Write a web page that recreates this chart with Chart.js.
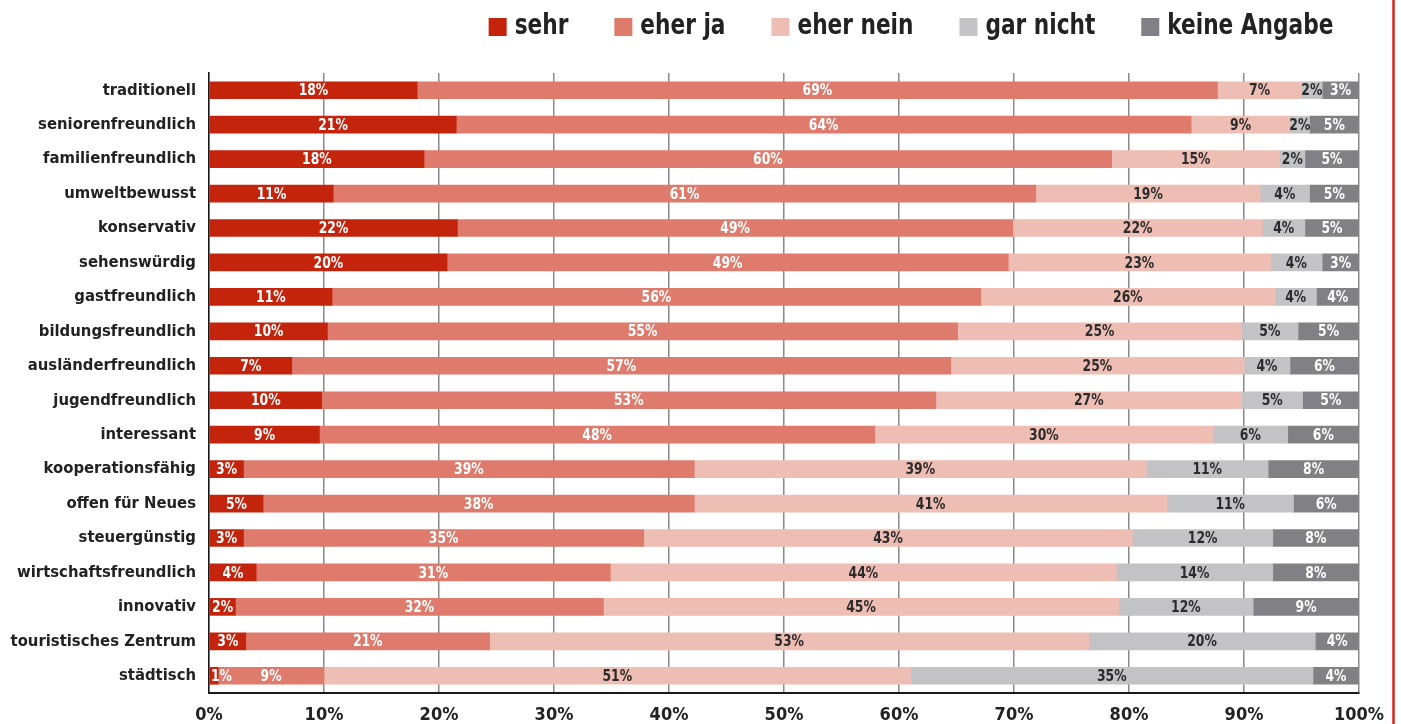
<!DOCTYPE html>
<html>
<head>
<meta charset="utf-8">
<script src="https://cdn.jsdelivr.net/npm/chart.js@4"></script>
<style>
html,body{margin:0;padding:0;background:#fff;}
#wrap{position:relative;width:1401px;height:724px;}
</style>
</head>
<body>
<div id="wrap"><canvas id="c" width="1401" height="724"></canvas></div>
<script>
const categories = ["traditionell","seniorenfreundlich","familienfreundlich","umweltbewusst","konservativ","sehenswürdig","gastfreundlich","bildungsfreundlich","ausländerfreundlich","jugendfreundlich","interessant","kooperationsfähig","offen für Neues","steuergünstig","wirtschaftsfreundlich","innovativ","touristisches Zentrum","städtisch"];
const seriesNames = ["sehr","eher ja","eher nein","gar nicht","keine Angabe"];

// bar widths (percent)
const sehr       = [18.1,21.5,18.7,10.8,21.6,20.7,10.7,10.3, 7.2, 9.8, 9.6, 3.0, 4.7, 3.0, 4.1, 2.3, 3.2, 0.8];
const eherJa     = [69.6,63.9,59.8,61.1,48.3,48.8,56.4,54.8,57.3,53.4,48.3,39.2,37.5,34.8,30.8,32.0,21.2, 9.2];
const eherNein   = [ 7.3, 8.6,14.6,19.5,21.7,22.8,25.6,24.7,25.5,26.6,29.4,39.3,41.1,42.5,44.0,44.8,52.1,51.0];
const garNicht   = [ 1.8, 1.7, 2.2, 4.3, 3.7, 4.5, 3.6, 4.9, 4.0, 5.3, 6.5,10.6,11.0,12.2,13.6,11.7,19.7,35.0];
const keineAngabe= [ 3.2, 4.3, 4.7, 4.3, 4.7, 3.2, 3.7, 5.3, 6.0, 4.9, 6.2, 7.9, 5.7, 7.5, 7.5, 9.2, 3.8, 4.0];

// printed labels
const sehrLbl       = [18,21,18,11,22,20,11,10, 7,10, 9, 3, 5, 3, 4, 2, 3, 1];
const eherJaLbl     = [69,64,60,61,49,49,56,55,57,53,48,39,38,35,31,32,21, 9];
const eherNeinLbl   = [ 7, 9,15,19,22,23,26,25,25,27,30,39,41,43,44,45,53,51];
const garNichtLbl   = [ 2, 2, 2, 4, 4, 4, 4, 5, 4, 5, 6,11,11,12,14,12,20,35];
const keineAngabeLbl= [ 3, 5, 5, 5, 5, 3, 4, 5, 6, 5, 6, 8, 6, 8, 8, 9, 4, 4];

const xTicks = [0,10,20,30,40,50,60,70,80,90,100];

const colors = ["#C4230C","#DE7B6C","#EEBDB3","#C3C3C6","#818085"];
const labelColors = ["#ffffff","#ffffff","#2b2b2b","#2b2b2b","#ffffff"];
const FONT = "'DejaVu Sans Condensed','Liberation Sans Narrow','Open Sans',sans-serif";

const values = [sehr,eherJa,eherNein,garNicht,keineAngabe];
const printed = [sehrLbl,eherJaLbl,eherNeinLbl,garNichtLbl,keineAngabeLbl];

const datasets = seriesNames.map((n,i)=>({
  label:n, data:values[i], backgroundColor:colors[i], borderWidth:0,
  barThickness:17, printed:printed[i], labelColor:labelColors[i]
}));

// draw text horizontally condensed (the original uses a condensed face)
function condensedText(ctx, text, x, y, sx){
  ctx.save();
  ctx.translate(x, y);
  ctx.scale(sx, 1);
  ctx.fillText(text, 0, 0);
  ctx.restore();
}

const valueLabels = {
  id:'valueLabels',
  afterDatasetsDraw(chart){
    const ctx = chart.ctx;
    const sx = 0.86;
    ctx.save();
    ctx.font = "bold 16px " + FONT;
    ctx.textAlign = 'center';
    ctx.textBaseline = 'middle';
    chart.data.datasets.forEach((ds,di)=>{
      const meta = chart.getDatasetMeta(di);
      meta.data.forEach((el,i)=>{
        const p = el.getCenterPoint();
        const txt = ds.printed[i] + '%';
        const w = ctx.measureText(txt).width * sx;
        const x = Math.max(p.x, chart.chartArea.left + w/2 + 2);
        ctx.fillStyle = ds.labelColor;
        condensedText(ctx, txt, x, p.y + 1, sx);
      });
    });
    ctx.restore();
  }
};

const customLegend = {
  id:'customLegend',
  afterDraw(chart){
    const ctx = chart.ctx;
    ctx.save();
    ctx.font = "bold 28px " + FONT;
    ctx.textBaseline = 'middle';
    ctx.textAlign = 'left';
    const sx = 0.86, box = 18, gap = 8, itemGap = 46;
    const items = chart.data.datasets.map(d=>({t:d.label,c:d.backgroundColor,w:ctx.measureText(d.label).width*sx}));
    const total = items.reduce((s,it)=>s+box+gap+it.w,0) + itemGap*(items.length-1);
    let x = 911 - total/2;
    const y = 27;
    items.forEach(it=>{
      ctx.fillStyle = it.c;
      ctx.fillRect(x, y - box/2, box, box);
      ctx.fillStyle = '#222222';
      condensedText(ctx, it.t, x + box + gap, y, sx);
      x += box + gap + it.w + itemGap;
    });
    ctx.restore();
  }
};

const redRule = {
  id:'redRule',
  afterDraw(chart){
    const ctx = chart.ctx;
    ctx.save();
    ctx.strokeStyle = '#D42A1F';
    ctx.lineWidth = 2.5;
    ctx.beginPath();
    ctx.moveTo(1393.5, 0);
    ctx.lineTo(1393.5, chart.height);
    ctx.stroke();
    ctx.restore();
  }
};

new Chart(document.getElementById('c'), {
  type:'bar',
  data:{labels:categories, datasets},
  options:{
    indexAxis:'y',
    responsive:false,
    animation:false,
    layout:{padding:{top:73,right:42,left:0,bottom:0}},
    plugins:{legend:{display:false},tooltip:{enabled:false}},
    scales:{
      x:{
        stacked:true, min:0, max:100,
        afterBuildTicks(s){ s.ticks = xTicks.map(v=>({value:v})); },
        afterFit(s){ s.height = 31; },
        grid:{color:'#8a8a8a', lineWidth:1.5, drawTicks:false},
        border:{color:'#1a1a1a', width:2},
        ticks:{callback:v=>v+'%', padding:12, color:'#222', font:{family:FONT, size:18, weight:'bold'}, maxRotation:0}
      },
      y:{
        stacked:true,
        afterFit(s){ s.width = 209; },
        grid:{display:false, drawTicks:false},
        border:{display:true, color:'#1a1a1a', width:1.5},
        ticks:{padding:13, color:'#222', font:{family:FONT, size:16.5, weight:'bold'}}
      }
    }
  },
  plugins:[valueLabels, customLegend, redRule]
});
</script>
</body>
</html>
